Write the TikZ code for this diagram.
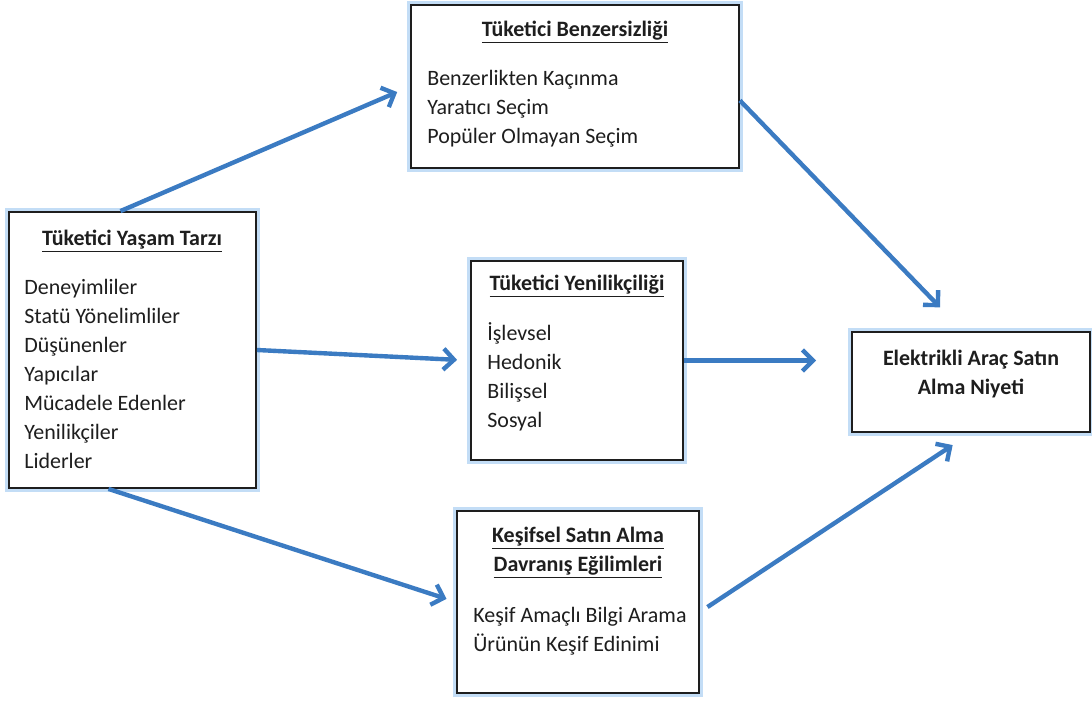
\documentclass[tikz,border=0pt]{standalone}
\usepackage{fontspec}
\setmainfont{Carlito}
\usepackage{tikz}
\usetikzlibrary{calc,arrows.meta}
\definecolor{arrow}{HTML}{3B7BC2}
\definecolor{glow}{HTML}{A9CFF2}
\definecolor{ink}{HTML}{1E1E1E}
\newcommand{\txtsize}{\fontsize{12.5}{16.5}\selectfont}

\begin{document}
\begin{tikzpicture}[x=0.02cm, y=-0.02cm, font=\txtsize, text=ink]
\tikzset{
  box/.style={draw=ink, line width=1.1pt, fill=white,
              preaction={draw=glow, line width=5pt, opacity=0.7}},
  head/.style={font=\txtsize\bfseries, inner sep=0pt, align=center},
  list/.style={align=left, anchor=west, inner sep=0pt},
  link/.style={-{Straight Barb[length=6pt,width=12pt]}, line width=2.5pt, color=arrow}
}
\useasboundingbox (0,0) rectangle (1092,700);

% the five boxes
\node[box, minimum width=4.94cm, minimum height=5.52cm] (yasam) at (132.5,350) {};
\node[box, minimum width=6.56cm, minimum height=3.26cm] (benz)  at (575,86.5) {};
\node[box, minimum width=4.24cm, minimum height=3.98cm] (yeni)  at (577,360.5) {};
\node[box, minimum width=4.84cm, minimum height=3.64cm] (kesif) at (578,602) {};
\node[box, minimum width=4.76cm, minimum height=2.00cm] (elek)  at (971,382) {};

% titles and lists
\node[head] (yasamT) at (132,241) {\underline{Tüketici Yaşam Tarzı}};
\node[list] (yasamL) at (24,374) {Deneyimliler\\ Statü Yönelimliler\\ Düşünenler\\ Yapıcılar\\
                                  Mücadele Edenler\\ Yenilikçiler\\ Liderler};

\node[head] (benzT) at (575,32) {\underline{Tüketici Benzersizliği}};
\node[list] (benzL) at (427,109) {Benzerlikten Kaçınma\\ Yaratıcı Seçim\\ Popüler Olmayan Seçim};

\node[head] (yeniT) at (577,286) {\underline{Tüketici Yenilikçiliği}};
\node[list] (yeniL) at (487,376.5) {İşlevsel\\ Hedonik\\ Bilişsel\\ Sosyal};

\node[head] (kesifT1) at (578,538) {\underline{Keşifsel Satın Alma}};
\node[head] (kesifT2) at (578,567) {\underline{Davranış Eğilimleri}};
\node[list] (kesifL) at (473,631.5) {Keşif Amaçlı Bilgi Arama\\ Ürünün Keşif Edinimi};

\node[head] (elekT) at (971,374.5) {Elektrikli Araç Satın\\ Alma Niyeti};

% connectors
\draw[link, shorten >=0.28cm] ($(yasam.north)+(-12,0)$) -- (benz.west);
\draw[link, shorten >=0.66cm] ($(benz.east)+(0,14)$) -- ($(elek.north)+(-8,0)$);
\draw[link, shorten >=0.26cm] (yasam.east) -- (yeni.west);
\draw[link, shorten >=0.7cm] (yeni.east) -- (yeni.east -| elek.west);
\draw[link, shorten >=0.2cm] ($(yasam.south)+(-24,0)$) -- (kesif.west);
\draw[link, shorten <=0.18cm, shorten >=0.44cm] ($(kesif.east)+(0,10)$) -- (elek.south);

\end{tikzpicture}
\end{document}
